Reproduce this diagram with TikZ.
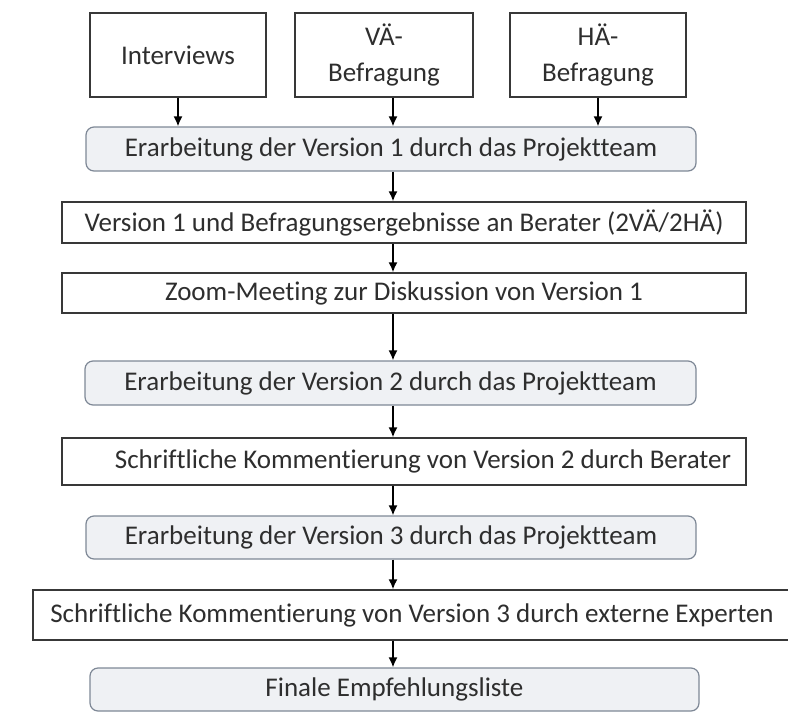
\documentclass[tikz,border=0pt]{standalone}
\usepackage{fontspec}
\setmainfont{Carlito}[Ligatures=CommonOff]
\usetikzlibrary{arrows.meta}
\definecolor{teamline}{RGB}{126,136,150}
\definecolor{teamfill}{RGB}{239,241,244}

\begin{document}
\begin{tikzpicture}[x=1pt,y=-1pt,
		plainbox/.style={shape=rectangle,draw=black!78,line width=1.3pt,fill=white,text=black!82,font=\fontsize{27}{36}\selectfont,align=center,inner sep=0pt},
		teambox/.style={shape=rectangle,rounded corners=8pt,draw=teamline,line width=1.2pt,fill=teamfill,text=black!82,font=\fontsize{27}{36}\selectfont,inner sep=0pt},
		flow/.style={-{Latex[length=10pt,width=9pt]},line width=1.7pt}]
		\useasboundingbox (0,0) rectangle (788,713);
		\coordinate (axis) at (393,0);
		\node[plainbox,minimum width=176pt,minimum height=84pt] (0) at (178,55) {Interviews};
		\node[plainbox,minimum width=178pt,minimum height=84pt] (1) at (384,55) {VÄ-\\Befragung};
		\node[plainbox,minimum width=176pt,minimum height=84pt] (2) at (598,55) {HÄ-\\Befragung};
		\node[teambox,minimum width=610pt,minimum height=44pt] (3) at (391,149) {Erarbeitung der Version 1 durch das Projektteam};
		\node[plainbox,minimum width=684pt,minimum height=41pt] (4) at (404,222.5) {Version 1 und Befragungsergebnisse an Berater (2VÄ/2HÄ)};
		\node[plainbox,minimum width=684pt,minimum height=40pt] (5) at (404,293) {Zoom-Meeting zur Diskussion von Version 1};
		\node[teambox,minimum width=611pt,minimum height=44pt] (6) at (390.5,383) {Erarbeitung der Version 2 durch das Projektteam};
		\node[plainbox,minimum width=684pt,minimum height=47pt] (7) at (404,461.5) {\hspace*{38pt}Schriftliche Kommentierung von Version 2 durch Berater};
		\node[teambox,minimum width=610pt,minimum height=43pt] (8) at (391,537.5) {Erarbeitung der Version 3 durch das Projektteam};
		\node[plainbox,minimum width=758pt,minimum height=50pt] (9) at (412,615) {Schriftliche Kommentierung von Version 3 durch externe Experten};
		\node[teambox,minimum width=609pt,minimum height=43pt] (10) at (394.5,689.5) {Finale Empfehlungsliste};
		% arrows
		\draw[flow] (0.south) -- (0.south |- 3.north);
		\draw[flow] (axis |- 1.south) -- (axis |- 3.north);
		\draw[flow] (2.south) -- (2.south |- 3.north);
		\draw[flow] (axis |- 3.south) -- (axis |- 4.north);
		\draw[flow] (axis |- 4.south) -- (axis |- 5.north);
		\draw[flow] (axis |- 5.south) -- (axis |- 6.north);
		\draw[flow] (axis |- 6.south) -- (axis |- 7.north);
		\draw[flow] (axis |- 7.south) -- (axis |- 8.north);
		\draw[flow] (axis |- 8.south) -- (axis |- 9.north);
		\draw[flow] (axis |- 9.south) -- (axis |- 10.north);
	\end{tikzpicture}
\end{document}
